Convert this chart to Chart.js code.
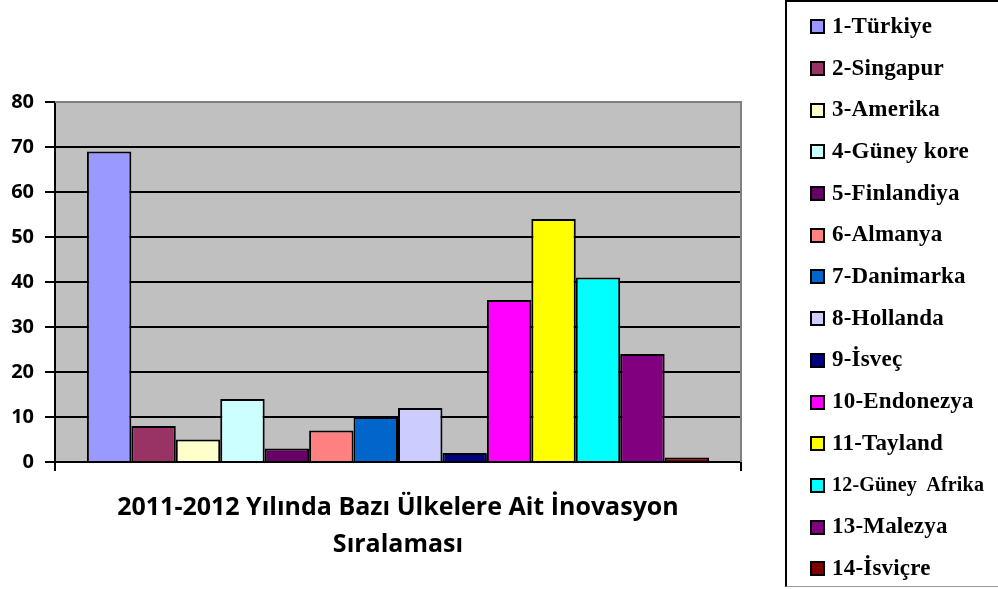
<!DOCTYPE html>
<html>
<head>
<meta charset="utf-8">
<script src="https://cdn.jsdelivr.net/npm/chart.js@4"></script>
<style>
  html, body { margin: 0; padding: 0; background: #fff; }
  #wrap { position: relative; width: 998px; height: 589px; }
  #legend {
    position: absolute; left: 785px; top: 0; width: 213px; height: 587px;
    box-sizing: border-box; border-left: 2px solid #000; border-top: 2px solid #000;
    border-bottom: 1px solid #999; padding-top: 3px;
  }
  .item {
    height: 41.7px; display: flex; align-items: center; padding-left: 23px;
    font-family: "Liberation Serif", "Times New Roman", serif; font-weight: 700;
    font-size: 23px; letter-spacing: 0.2px; white-space: pre; color: #000;
  }
  .sw {
    width: 11px; height: 11px; border: 2px solid #000; margin-right: 7px; flex: none;
    position: relative; top: 1px;
  }
</style>
</head>
<body>
<div id="wrap">
  <canvas id="myChart"></canvas>
  <div id="legend"></div>
</div>
<script>
const countries = ['1-Türkiye', '2-Singapur', '3-Amerika', '4-Güney kore', '5-Finlandiya',
    '6-Almanya', '7-Danimarka', '8-Hollanda', '9-İsveç', '10-Endonezya', '11-Tayland',
    '12-Güney  Afrika', '13-Malezya', '14-İsviçre'];
const ranks = [69, 8, 5, 14, 3, 7, 10, 12, 2, 36, 54, 41, 24, 1];
const colors = ['#9999FF', '#993366', '#FFFFCC', '#CCFFFF', '#660066', '#FF8080', '#0066CC',
    '#CCCCFF', '#000080', '#FF00FF', '#FFFF00', '#00FFFF', '#800080', '#800000'];
const titleLines = ['2011-2012 Yılında Bazı Ülkelere Ait İnovasyon', 'Sıralaması'];

const datasets = countries.map((name, i) => ({
    label: name,
    data: [ranks[i]],
    backgroundColor: colors[i],
    borderColor: '#000',
    borderWidth: 2,
    categoryPercentage: 0.907,
    barPercentage: 1
}));

// grey plot area with grey top/right frame
const plotArea = {
    id: 'plotArea',
    beforeDraw(chart) {
        const { ctx, chartArea: a } = chart;
        ctx.save();
        ctx.fillStyle = '#C0C0C0';
        ctx.fillRect(a.left, a.top, a.right - a.left, a.bottom - a.top);
        ctx.restore();
    },
    beforeDatasetsDraw(chart) {
        const { ctx, chartArea: a } = chart;
        ctx.save();
        ctx.strokeStyle = '#808080';
        ctx.lineWidth = 2;
        ctx.beginPath();
        ctx.moveTo(a.left, a.top);
        ctx.lineTo(a.right, a.top);
        ctx.lineTo(a.right, a.bottom);
        ctx.stroke();
        ctx.restore();
    }
};

const ctx = document.getElementById('myChart');
new Chart(ctx, {
    type: 'bar',
    data: { labels: [''], datasets: datasets },
    plugins: [plotArea],
    options: {
        responsive: true,
        maintainAspectRatio: false,
        animation: false,
        layout: { padding: { top: 102, right: 257, left: 0, bottom: 0 } },
        plugins: {
            legend: { display: false },
            tooltip: { enabled: false },
            title: {
                display: true,
                position: 'bottom',
                fullSize: false,
                text: titleLines,
                color: '#000',
                font: { family: 'Open Sans', weight: 'bold', size: 25, lineHeight: 1.48 },
                padding: { top: 10, bottom: 26 }
            }
        },
        scales: {
            x: {
                ticks: { display: false },
                grid: { offset: true, drawOnChartArea: false, color: '#000', lineWidth: 2, tickLength: 9 },
                border: { color: '#000', width: 2 },
                afterFit(scale) { scale.height = 17; }
            },
            y: {
                min: 0,
                max: 80,
                ticks: {
                    stepSize: 10,
                    padding: 11,
                    color: '#000',
                    font: { family: 'Open Sans', weight: 'bold', size: 20 }
                },
                grid: {
                    color: c => c.tick && c.tick.value === 80 ? '#808080' : '#000',
                    tickColor: '#000',
                    lineWidth: 2,
                    tickLength: 10
                },
                border: { color: '#000', width: 2 },
                afterFit(scale) { scale.width = 55; }
            }
        }
    }
});

// legend box on the right
const legend = document.getElementById('legend');
countries.forEach((name, i) => {
    const row = document.createElement('div');
    row.className = 'item';
    const sw = document.createElement('span');
    sw.className = 'sw';
    sw.style.background = colors[i];
    const txt = document.createElement('span');
    txt.textContent = name;
    row.appendChild(sw);
    row.appendChild(txt);
    legend.appendChild(row);
    // shrink long names so they fit in the box
    const room = row.getBoundingClientRect().right - txt.getBoundingClientRect().left - 10;
    let size = 23;
    while (txt.getBoundingClientRect().width > room && size > 12) {
        size -= 1;
        row.style.fontSize = size + 'px';
    }
});
</script>
</body>
</html>
